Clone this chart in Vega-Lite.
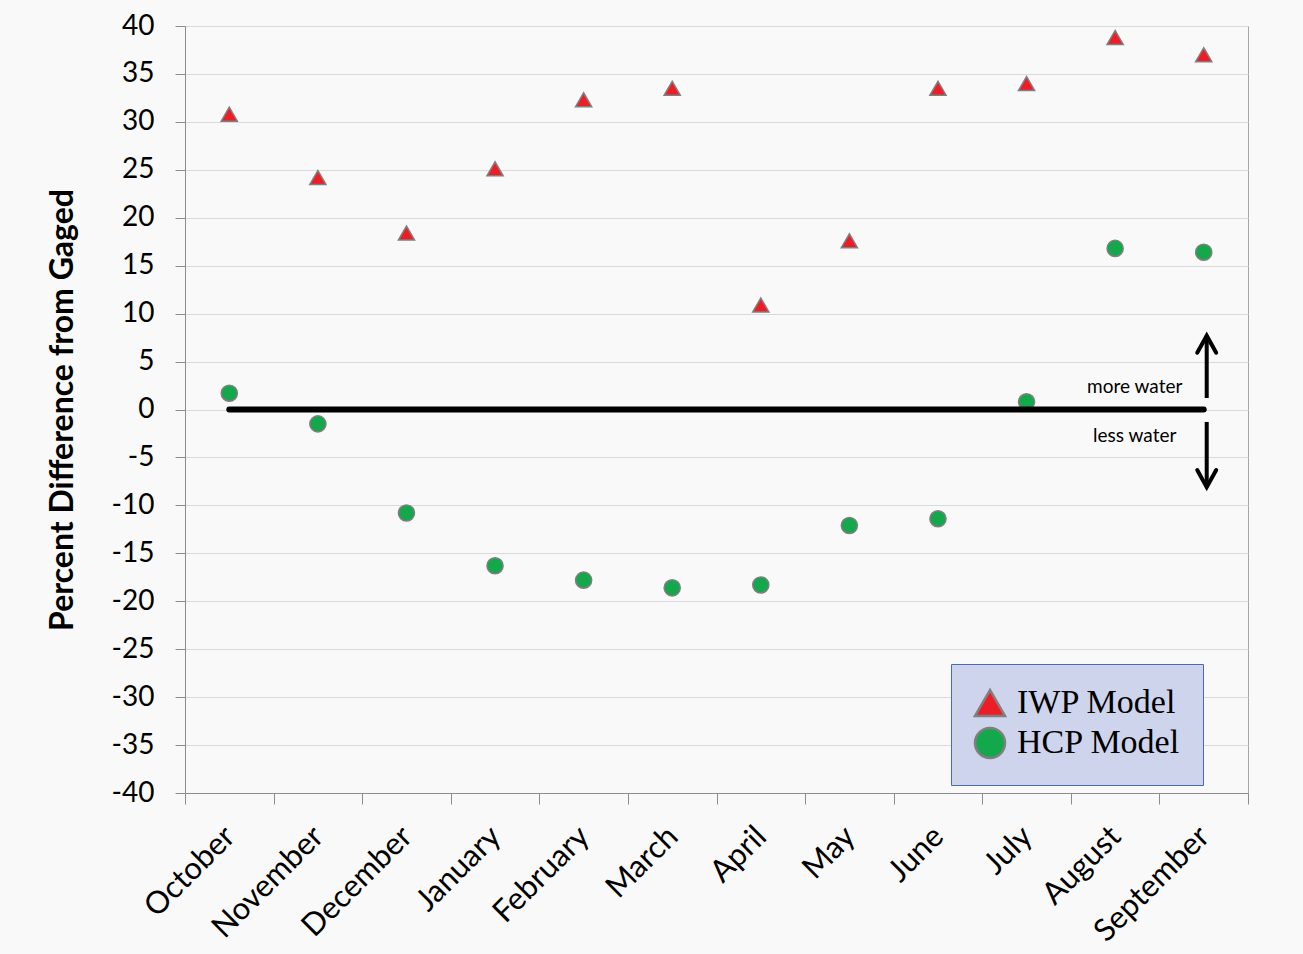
{
  "$schema": "https://vega.github.io/schema/vega-lite/v6.json",
  "autosize": "none",
  "width": 1063,
  "height": 767,
  "padding": {"left": 185, "top": 26, "right": 55, "bottom": 161},
  "background": "#f9f9f9",
  "config": {
    "font": "Lato",
    "view": {"stroke": "#a6a6a6", "strokeWidth": 1},
    "axis": {"domainColor": "#8c8c8c", "tickColor": "#8c8c8c", "labelColor": "#000000", "titleColor": "#000000"}
  },
  "datasets": {
    "pts": [
      {"month": "October", "series": "IWP Model", "value": 30.8},
      {"month": "November", "series": "IWP Model", "value": 24.2},
      {"month": "December", "series": "IWP Model", "value": 18.4},
      {"month": "January", "series": "IWP Model", "value": 25.1},
      {"month": "February", "series": "IWP Model", "value": 32.3},
      {"month": "March", "series": "IWP Model", "value": 33.5},
      {"month": "April", "series": "IWP Model", "value": 10.9},
      {"month": "May", "series": "IWP Model", "value": 17.6},
      {"month": "June", "series": "IWP Model", "value": 33.5},
      {"month": "July", "series": "IWP Model", "value": 34.0},
      {"month": "August", "series": "IWP Model", "value": 38.8},
      {"month": "September", "series": "IWP Model", "value": 37.0},
      {"month": "October", "series": "HCP Model", "value": 1.7},
      {"month": "November", "series": "HCP Model", "value": -1.5},
      {"month": "December", "series": "HCP Model", "value": -10.8},
      {"month": "January", "series": "HCP Model", "value": -16.3},
      {"month": "February", "series": "HCP Model", "value": -17.8},
      {"month": "March", "series": "HCP Model", "value": -18.6},
      {"month": "April", "series": "HCP Model", "value": -18.3},
      {"month": "May", "series": "HCP Model", "value": -12.1},
      {"month": "June", "series": "HCP Model", "value": -11.4},
      {"month": "July", "series": "HCP Model", "value": 0.8},
      {"month": "August", "series": "HCP Model", "value": 16.8},
      {"month": "September", "series": "HCP Model", "value": 16.4}
    ],
    "zero": [
      {"month": "October", "value": 0},
      {"month": "September", "value": 0}
    ],
    "shafts": [
      {"month": "September", "from": 1.2, "to": 7.7},
      {"month": "September", "from": -1.3, "to": -8.1}
    ],
    "labels": [
      {"month": "September", "value": 2.3, "text": "more water"},
      {"month": "September", "value": -2.8, "text": "less water"}
    ]
  },
  "layer": [
    {
      "data": {"name": "pts"},
      "mark": {"type": "point", "filled": true, "opacity": 1, "stroke": "#7f7f7f", "strokeWidth": 1.5, "size": 260},
      "encoding": {
        "x": {
          "field": "month",
          "type": "nominal",
          "scale": {"type": "band", "paddingInner": 0, "paddingOuter": 0, "domain": ["October", "November", "December", "January", "February", "March", "April", "May", "June", "July", "August", "September"]},
          "axis": {
            "title": null,
            "labelAngle": -45,
            "labelFontSize": 31,
            "labelPadding": 17,
            "labelOffset": -10,
            "tickBand": "extent",
            "tickSize": 11,
            "grid": false,
            "domainColor": "#8c8c8c"
          }
        },
        "y": {
          "field": "value",
          "type": "quantitative",
          "scale": {"domain": [-40, 40], "nice": false, "zero": false},
          "axis": {
            "title": "Percent Difference from Gaged",
            "titleFontSize": 32,
            "titleFontWeight": "bold",
            "titlePadding": 32,
            "values": [-40, -35, -30, -25, -20, -15, -10, -5, 0, 5, 10, 15, 20, 25, 30, 35, 40],
            "labelExpr": "datum.value + ''",
            "labelFontSize": 28,
            "labelPadding": 21,
            "tickSize": 10,
            "grid": true,
            "gridColor": "#d9d9d9",
            "gridWidth": 1
          }
        },
        "fill": {
          "field": "series",
          "type": "nominal",
          "scale": {"domain": ["IWP Model", "HCP Model"], "range": ["#ee1c25", "#13a84b"]},
          "legend": {
            "title": null,
            "orient": "none",
            "legendX": 766,
            "legendY": 638,
            "direction": "vertical",
            "symbolSize": 900,
            "symbolStrokeColor": "#7f7f7f",
            "symbolStrokeWidth": 2.5,
            "labelFont": "Liberation Serif",
            "labelFontSize": 34,
            "labelColor": "#000000",
            "labelLimit": 400,
            "labelOffset": 10,
            "padding": 22,
            "rowPadding": 2,
            "strokeColor": "#4a6ab3",
            "fillColor": "#cdd4ec"
          }
        },
        "shape": {
          "field": "series",
          "type": "nominal",
          "scale": {"domain": ["IWP Model", "HCP Model"], "range": ["triangle-up", "circle"]}
        }
      }
    },
    {
      "data": {"name": "zero"},
      "mark": {"type": "line", "color": "#000000", "strokeWidth": 6, "strokeCap": "round"},
      "encoding": {
        "x": {"field": "month", "type": "nominal"},
        "y": {"field": "value", "type": "quantitative"}
      }
    },
    {
      "data": {"name": "shafts"},
      "mark": {"type": "rule", "color": "#000000", "strokeWidth": 4, "xOffset": 3},
      "encoding": {
        "x": {"field": "month", "type": "nominal"},
        "y": {"field": "from", "type": "quantitative"},
        "y2": {"field": "to"}
      }
    },
    {
      "data": {"name": "shafts"},
      "transform": [{"filter": "datum.to > 0"}],
      "mark": {"type": "point", "shape": "M-1,1.8L0,0L1,1.8", "filled": false, "stroke": "#000000", "strokeWidth": 4, "size": 360, "opacity": 1, "xOffset": 3, "strokeCap": "round"},
      "encoding": {
        "x": {"field": "month", "type": "nominal"},
        "y": {"field": "to", "type": "quantitative"}
      }
    },
    {
      "data": {"name": "shafts"},
      "transform": [{"filter": "datum.to < 0"}],
      "mark": {"type": "point", "shape": "M-1,-1.8L0,0L1,-1.8", "filled": false, "stroke": "#000000", "strokeWidth": 4, "size": 360, "opacity": 1, "xOffset": 3, "strokeCap": "round"},
      "encoding": {
        "x": {"field": "month", "type": "nominal"},
        "y": {"field": "to", "type": "quantitative"}
      }
    },
    {
      "data": {"name": "labels"},
      "mark": {"type": "text", "font": "Lato", "fontSize": 19, "color": "#000000", "align": "center", "baseline": "middle", "dx": -69},
      "encoding": {
        "x": {"field": "month", "type": "nominal"},
        "y": {"field": "value", "type": "quantitative"},
        "text": {"field": "text"}
      }
    }
  ]
}
